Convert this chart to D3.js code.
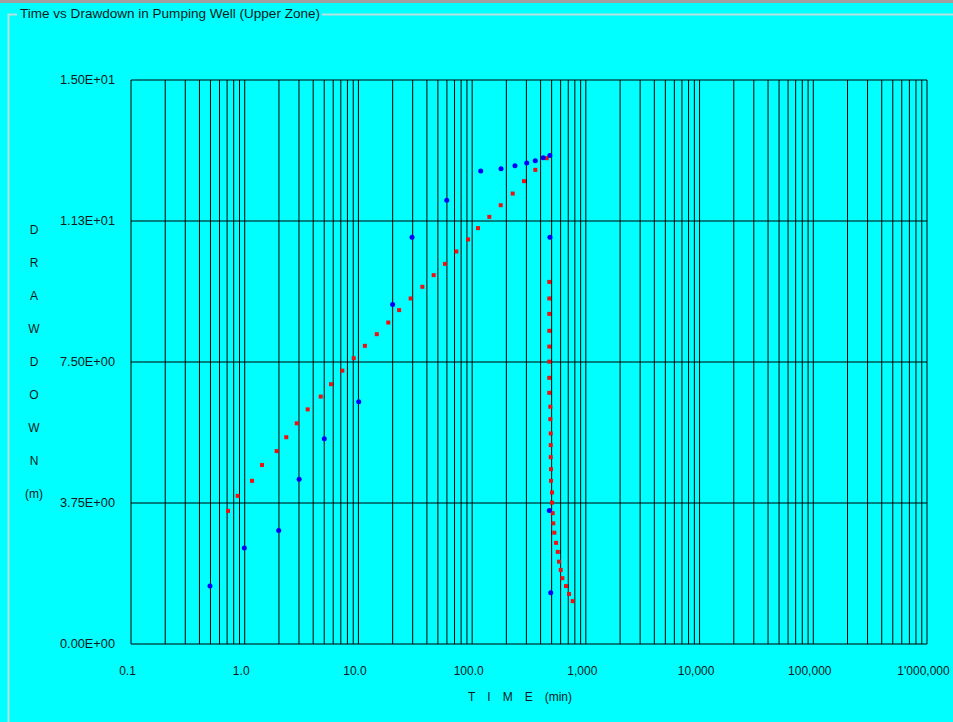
<!DOCTYPE html>
<html>
<head>
<meta charset="utf-8">
<script src="https://cdn.jsdelivr.net/npm/d3@7"></script>
<style>
  html, body { margin: 0; padding: 0; background: #00ffff; }
  svg { display: block; }
  text { font-family: "Liberation Sans", Arial, sans-serif; fill: #0b1a1a; }
</style>
</head>
<body>
<svg id="chart" width="953" height="722"></svg>
<script>
// ---- data ----
const chartTitle = "Time vs Drawdown in Pumping Well (Upper Zone)";
const yTitleLetters = ["D", "R", "A", "W", "D", "O", "W", "N", "(m)"];
const xTitleParts = ["T", "I", "M", "E", "(min)"];

const xTickValues = [0.1, 1, 10, 100, 1000, 10000, 100000, 1000000];
const xTickLabels = ["0.1", "1.0", "10.0", "100.0", "1,000", "10,000", "100,000", "1'000,000"];
const yTickValues = [0, 3.75, 7.5, 11.25, 15];
const yTickLabels = ["0.00E+00", "3.75E+00", "7.50E+00", "1.13E+01", "1.50E+01"];

// red series (time, min ; drawdown, m)
const redTime = [0.713, 0.868, 1.16, 1.42, 1.91, 2.32, 2.87, 3.58, 4.66, 5.74, 7.22, 9.09, 11.4, 14.5,
  18.3, 22.8, 28.8, 36.5, 45.9, 57.7, 72.6, 92.0, 112.6, 141.6, 178.4, 227.4, 285.9, 359.4, 452.7,
  477, 477, 477, 477, 477, 477, 477, 477, 487, 487, 491, 491, 491, 494, 494, 504, 504, 511, 517, 528,
  547, 566, 581, 601, 621, 669, 711, 766];
const redDraw = [3.54, 3.94, 4.34, 4.76, 5.13, 5.50, 5.87, 6.24, 6.58, 6.91, 7.27, 7.60, 7.93, 8.24,
  8.55, 8.88, 9.19, 9.50, 9.81, 10.11, 10.44, 10.76, 11.06, 11.36, 11.67, 11.98, 12.31, 12.61, 12.92,
  9.63, 9.19, 8.78, 8.33, 7.91, 7.51, 7.08, 6.68, 6.31, 5.98, 5.60, 5.29, 4.97, 4.65, 4.34, 4.03, 3.76, 3.48, 3.21, 2.96,
  2.69, 2.45, 2.19, 1.97, 1.75, 1.54, 1.33, 1.14];

// blue series
const blueTime = [0.495, 0.992, 1.99, 3.01, 5.01, 10.06, 20.0, 29.6, 59.8, 119, 179.5, 238, 302, 359, 422, 482,
  483, 477, 491];
const blueDraw = [1.54, 2.55, 3.02, 4.38, 5.46, 6.44, 9.03, 10.82, 11.80, 12.58, 12.64, 12.72, 12.79, 12.85, 12.93, 12.99,
  10.82, 3.55, 1.36];

// ---- layout ----
const W = 953, H = 722;
const plot = { left: 131, right: 927, top: 80, bottom: 644 };

const svg = d3.select("#chart");

// window chrome
svg.append("rect").attr("x", 0).attr("y", 0).attr("width", W).attr("height", H).attr("fill", "#00ffff");
svg.append("rect").attr("x", 0).attr("y", 0).attr("width", W).attr("height", 3).attr("fill", "#a0a0a0");
// group box frame (etched)
const gb = svg.append("g").attr("fill", "none");
gb.append("path").attr("d", `M8.5,${H} V14.5 H17`).attr("stroke", "#b8e0e0").attr("stroke-width", 2);
gb.append("path").attr("d", `M322,14.5 H${W}`).attr("stroke", "#b8e0e0").attr("stroke-width", 2);

svg.append("text")
  .attr("x", 20).attr("y", 18)
  .attr("font-size", 12)
  .attr("textLength", 300).attr("lengthAdjust", "spacingAndGlyphs")
  .text(chartTitle);

// scales
const x = d3.scaleLog().domain([0.1, 1e6]).range([plot.left, plot.right]);
const y = d3.scaleLinear().domain([0, 15]).range([plot.bottom, plot.top]);

// vertical log grid lines (1..9 per decade)
const gridX = [];
for (let e = -1; e < 6; e++) {
  for (let k = 1; k <= 9; k++) gridX.push(k * Math.pow(10, e));
}
gridX.push(1e6);

const gridG = svg.append("g").attr("stroke", "#000").attr("stroke-width", 1);
gridG.selectAll("line.v").data(gridX).join("line").attr("class", "v")
  .attr("x1", d => x(d)).attr("x2", d => x(d))
  .attr("y1", plot.top).attr("y2", plot.bottom);
gridG.selectAll("line.h").data(yTickValues).join("line").attr("class", "h")
  .attr("x1", plot.left).attr("x2", plot.right)
  .attr("y1", d => y(d)).attr("y2", d => y(d));

// axes (labels only)
const xAxis = d3.axisBottom(x)
  .tickValues(xTickValues)
  .tickFormat((d, i) => xTickLabels[i])
  .tickSize(0).tickPadding(22);
const gx = svg.append("g").attr("transform", `translate(0,${plot.bottom})`).call(xAxis);
gx.select(".domain").remove();
gx.selectAll("text").attr("font-size", 12).attr("dx", -4)
  .attr("font-family", "'Liberation Sans', Arial, sans-serif").attr("fill", "#0b1a1a");

const yAxis = d3.axisLeft(y)
  .tickValues(yTickValues)
  .tickFormat((d, i) => yTickLabels[i])
  .tickSize(0).tickPadding(16);
const gy = svg.append("g").attr("transform", `translate(${plot.left},0)`).call(yAxis);
gy.select(".domain").remove();
gy.selectAll("text").attr("font-size", 12).attr("textLength", 55).attr("lengthAdjust", "spacingAndGlyphs")
  .attr("font-family", "'Liberation Sans', Arial, sans-serif").attr("fill", "#0b1a1a");

// y title letters
svg.append("g").selectAll("text").data(yTitleLetters).join("text")
  .attr("x", 34).attr("y", (d, i) => 230 + i * 33)
  .attr("dy", "0.35em")
  .attr("text-anchor", "middle").attr("font-size", 12)
  .text(d => d);

// x title pieces
const xt = svg.append("g");
let cx = 468;
xTitleParts.forEach(p => {
  const t = xt.append("text").attr("x", cx).attr("y", 701).attr("font-size", 12).text(p);
  cx += t.node().getComputedTextLength() + 12;
});

// markers
const red = redTime.map((t, i) => ({ t, d: redDraw[i] }));
const blue = blueTime.map((t, i) => ({ t, d: blueDraw[i] }));

svg.append("g").selectAll("rect").data(red).join("rect")
  .attr("x", d => x(d.t) - 2).attr("y", d => y(d.d) - 2)
  .attr("width", 4).attr("height", 4)
  .attr("fill", "#f01010");

svg.append("g").selectAll("circle").data(blue).join("circle")
  .attr("cx", d => x(d.t)).attr("cy", d => y(d.d)).attr("r", 2.5)
  .attr("fill", "#0000ff");
</script>
</body>
</html>
